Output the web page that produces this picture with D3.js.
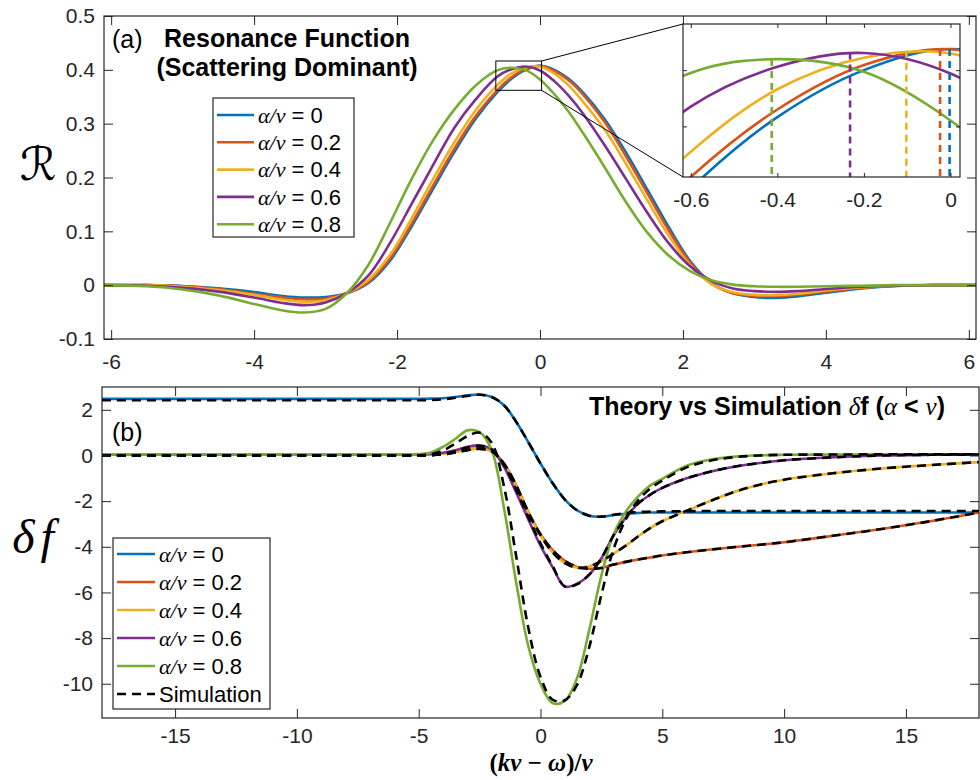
<!DOCTYPE html>
<html lang="en">
<head>
<meta charset="UTF-8">
<title>Resonance function and delta f</title>
<style>
  body { margin: 0; background: #fff; }
  svg { display: block; }
  .tick text { font-family: "Liberation Sans", Arial, sans-serif; font-size: 21px; fill: #262626; }
  .tick line { stroke: #262626; stroke-width: 1; }
  .lbl { font-family: "Liberation Sans", Arial, sans-serif; fill: #000; }
  .math { font-family: "Liberation Serif", "DejaVu Serif", serif; font-style: italic; }
</style>
</head>
<body>
<div id="chart"></div>
<script src="https://cdn.jsdelivr.net/npm/d3@7"></script>
<script>
// ---- panel (a): resonance function R vs (kv - w)/nu ----
var alphaLabels = ["0", "0.2", "0.4", "0.6", "0.8"];
var colors = ["#0072BD", "#D95319", "#EDB120", "#7E2F8E", "#77AC30"];

var topX = [-6.1, -5.5, -5, -4.5, -4, -3.6, -3.3, -3, -2.7, -2.4, -2.1, -1.8, -1.5, -1.2, -0.9, -0.6, -0.4, -0.2,
            0, 0.2, 0.4, 0.6, 0.9, 1.2, 1.5, 1.8, 2.1, 2.4, 2.7, 3, 3.3, 3.6, 4, 4.5, 5, 5.5, 6.1];
var rA0 = [0, 0, -0.0015, -0.006, -0.013, -0.020, -0.023, -0.022, -0.015, 0.004, 0.045, 0.108, 0.178, 0.247, 0.309, 0.358, 0.3833, 0.400,
           0.4075, 0.400, 0.3833, 0.358, 0.309, 0.247, 0.178, 0.108, 0.045, 0.004, -0.015, -0.022, -0.0236, -0.021, -0.014, -0.006, -0.0015, 0, 0];
var rA2 = [0, 0, -0.002, -0.007, -0.016, -0.023, -0.0266, -0.025, -0.0148, 0.006, 0.049, 0.113, 0.184, 0.253, 0.314, 0.362, 0.386, 0.4018,
           0.4074, 0.398, 0.3805, 0.3545, 0.304, 0.240, 0.171, 0.102, 0.042, 0.003, -0.015, -0.020, -0.0204, -0.018, -0.012, -0.005, -0.001, 0, 0];
var rA4 = [0, 0, -0.003, -0.009, -0.018, -0.027, -0.031, -0.028, -0.0145, 0.010, 0.056, 0.123, 0.196, 0.265, 0.325, 0.371, 0.3932, 0.4044,
           0.4059, 0.3935, 0.371, 0.341, 0.290, 0.226, 0.158, 0.092, 0.037, 0.002, -0.013, -0.018, -0.0186, -0.016, -0.010, -0.004, -0.001, 0, 0];
var rA6 = [0, -0.001, -0.005, -0.012, -0.023, -0.033, -0.037, -0.032, -0.0145, 0.018, 0.078, 0.150, 0.222, 0.292, 0.345, 0.387, 0.4012, 0.4061,
           0.3988, 0.379, 0.352, 0.319, 0.261, 0.198, 0.135, 0.078, 0.035, 0.008, -0.006, -0.011, -0.0124, -0.011, -0.007, -0.003, -0.001, 0, 0];
var rA8 = [0, -0.002, -0.008, -0.019, -0.035, -0.047, -0.0508, -0.044, -0.0145, 0.038, 0.115, 0.196, 0.268, 0.326, 0.371, 0.399, 0.4039, 0.3994,
           0.3821, 0.355, 0.322, 0.283, 0.220, 0.155, 0.098, 0.055, 0.026, 0.009, 0.001, -0.002, -0.003, -0.003, -0.002, -0.001, 0, 0, 0];
// peak positions marked in the inset
var peakX = [-0.002, -0.024, -0.102, -0.232, -0.413];
var peakY = [0.4075, 0.4075, 0.4069, 0.4063, 0.4040];

var topXTicks = [-6, -4, -2, 0, 2, 4, 6];
var topYTicks = [-0.1, 0, 0.1, 0.2, 0.3, 0.4, 0.5];
var insetXTicks = [-0.6, -0.4, -0.2, 0];
var insetYTicks = [0.38, 0.40];

// ---- panel (b): delta f, theory vs simulation ----
var botX = [-18, -12, -8, -6, -5, -4.5, -4, -3.5, -3, -2.5, -2, -1.5, -1, -0.5, 0, 0.5, 1, 1.5, 2, 2.5, 3, 3.5, 4, 4.5, 5,
            6, 7, 8, 9, 10, 12, 14, 16, 18];
var dfA0 = [2.48, 2.48, 2.48, 2.48, 2.48, 2.49, 2.51, 2.56, 2.63, 2.67, 2.56, 2.2, 1.48, 0.58, -0.35, -1.22, -1.93, -2.4, -2.64, -2.68, -2.61, -2.55, -2.52, -2.5, -2.5,
            -2.5, -2.5, -2.5, -2.5, -2.5, -2.5, -2.5, -2.5, -2.5];
var dfA2 = [0.05, 0.05, 0.05, 0.05, 0.05, 0.06, 0.09, 0.16, 0.26, 0.31, 0.2, -0.35, -1.3, -2.48, -3.45, -4.15, -4.62, -4.88, -4.96, -4.93, -4.78, -4.66, -4.56, -4.47, -4.38,
            -4.24, -4.12, -4.01, -3.91, -3.8, -3.52, -3.22, -2.88, -2.5];
var dfA4 = [0.05, 0.05, 0.05, 0.05, 0.05, 0.06, 0.09, 0.16, 0.25, 0.3, 0.18, -0.4, -1.35, -2.52, -3.5, -4.25, -4.72, -4.92, -4.86, -4.62, -4.3, -3.95, -3.55, -3.18, -2.88,
            -2.42, -1.98, -1.58, -1.28, -1.06, -0.78, -0.57, -0.42, -0.29];
var dfA6 = [0.05, 0.05, 0.05, 0.05, 0.05, 0.07, 0.12, 0.23, 0.38, 0.44, 0.26, -0.5, -1.62, -2.8, -3.95, -4.9, -5.74, -5.62, -5.22, -4.5, -3.5, -2.72, -2.12, -1.72, -1.42,
            -1.0, -0.7, -0.48, -0.33, -0.21, -0.08, 0.0, 0.03, 0.04];
var dfA8 = [0.05, 0.05, 0.05, 0.05, 0.06, 0.13, 0.38, 0.72, 1.1, 1.02, 0.22, -2.3, -5.55, -8.35, -10.0, -10.85, -10.75, -9.75, -7.65, -5.25, -3.45, -2.47, -1.8, -1.32, -1.02,
            -0.45, -0.18, -0.05, 0.01, 0.03, 0.04, 0.05, 0.05, 0.05];

var simA0 = [2.42, 2.42, 2.42, 2.42, 2.42, 2.43, 2.46, 2.53, 2.61, 2.66, 2.56, 2.2, 1.48, 0.58, -0.35, -1.22, -1.93, -2.4, -2.64, -2.68, -2.6, -2.53, -2.48, -2.46, -2.45,
             -2.44, -2.43, -2.43, -2.43, -2.43, -2.43, -2.43, -2.43, -2.43];
var simA2 = [0, 0, 0, 0, 0, 0.01, 0.05, 0.13, 0.24, 0.3, 0.2, -0.35, -1.3, -2.48, -3.45, -4.15, -4.62, -4.88, -4.96, -4.93, -4.78, -4.66, -4.56, -4.47, -4.38,
             -4.24, -4.12, -4.01, -3.91, -3.8, -3.52, -3.22, -2.88, -2.5];
var simA4 = [0, 0, 0, 0, 0, 0.01, 0.05, 0.13, 0.23, 0.29, 0.18, -0.4, -1.35, -2.52, -3.5, -4.25, -4.72, -4.92, -4.86, -4.62, -4.3, -3.95, -3.55, -3.18, -2.88,
             -2.42, -1.98, -1.58, -1.28, -1.06, -0.78, -0.57, -0.42, -0.29];
var simA6 = [0, 0, 0, 0, 0, 0.02, 0.08, 0.19, 0.35, 0.42, 0.27, -0.4, -1.5, -2.7, -3.85, -4.85, -5.74, -5.64, -5.22, -4.5, -3.5, -2.72, -2.12, -1.72, -1.42,
             -1.0, -0.7, -0.48, -0.33, -0.21, -0.08, 0.0, 0.03, 0.04];
var simA8 = [0, 0, 0, 0, 0.01, 0.06, 0.22, 0.52, 0.85, 1.0, 0.55, -1.35, -4.4, -7.55, -9.7, -10.7, -10.72, -10.05, -8.4, -6.1, -4.1, -2.8, -1.98, -1.45, -1.1,
             -0.52, -0.22, -0.07, 0.0, 0.03, 0.04, 0.05, 0.05, 0.05];

var botXTicks = [-15, -10, -5, 0, 5, 10, 15];
var botYTicks = [-10, -8, -6, -4, -2, 0, 2];

var topSeries = [rA0, rA2, rA4, rA6, rA8];
var botSeries = [dfA0, dfA2, dfA4, dfA6, dfA8];
var simSeries = [simA0, simA2, simA4, simA6, simA8];

var width = 980, height = 780;
var axisColor = "#262626";

var svg = d3.select("#chart").append("svg")
    .attr("width", width)
    .attr("height", height);

// inward ticks on all four sides, like a boxed MATLAB axes
function drawFrame(g, x, y, xTicks, yTicks, tick, labels, pad) {
    var x0 = x.range()[0], x1 = x.range()[1], y0 = y.range()[0], y1 = y.range()[1];
    var fmt = d => String(d);
    g.append("g").attr("transform", `translate(0,${y0})`)
        .call(d3.axisBottom(x).tickValues(xTicks).tickSizeInner(-tick).tickSizeOuter(0).tickPadding(pad)
            .tickFormat(labels.x ? fmt : ""));
    g.append("g").attr("transform", `translate(0,${y1})`)
        .call(d3.axisTop(x).tickValues(xTicks).tickSizeInner(-tick).tickSizeOuter(0).tickFormat(""));
    g.append("g").attr("transform", `translate(${x0},0)`)
        .call(d3.axisLeft(y).tickValues(yTicks).tickSizeInner(-tick).tickSizeOuter(0).tickPadding(9)
            .tickFormat(labels.y ? fmt : ""));
    g.append("g").attr("transform", `translate(${x1},0)`)
        .call(d3.axisRight(y).tickValues(yTicks).tickSizeInner(-tick).tickSizeOuter(0).tickFormat(""));
    g.selectAll(".domain").remove();
    g.append("rect")
        .attr("x", x0).attr("y", y1)
        .attr("width", x1 - x0).attr("height", y0 - y1)
        .attr("fill", "none").attr("stroke", axisColor).attr("stroke-width", 1.2);
}

function addClip(id, x, y) {
    svg.append("clipPath").attr("id", id).append("rect")
        .attr("x", x.range()[0]).attr("y", y.range()[1])
        .attr("width", x.range()[1] - x.range()[0])
        .attr("height", y.range()[0] - y.range()[1]);
}

function legendLabel(text, value) {
    text.append("tspan").attr("class", "math").text("\u03B1/\u03BD");
    text.append("tspan").text(" = " + value);
}

// ================= panel (a) =================
var xA = d3.scaleLinear().domain([-6.1, 6.1]).range([104, 976]);
var yA = d3.scaleLinear().domain([-0.1, 0.5]).range([339, 16]);
addClip("clipA", xA, yA);

var lineA = d3.line()
    .x(d => xA(d[0])).y(d => yA(d[1]))
    .curve(d3.curveCatmullRom.alpha(0.5));

var gA = svg.append("g");
gA.append("g").attr("clip-path", "url(#clipA)")
    .selectAll("path")
    .data(topSeries)
    .enter().append("path")
    .attr("d", d => lineA(d3.zip(topX, d)))
    .attr("fill", "none")
    .attr("stroke", (d, i) => colors[i])
    .attr("stroke-width", 2.6);

drawFrame(gA, xA, yA, topXTicks, topYTicks, 9, { x: true, y: true }, 15);

// zoom rectangle and connectors
var xI = d3.scaleLinear().domain([-0.618, 0.022]).range([683, 960]);
var yI = d3.scaleLinear().domain([0.362, 0.4164]).range([177, 24]);
var zx0 = xA(xI.domain()[0]), zx1 = xA(xI.domain()[1]);
var zy0 = yA(yI.domain()[1]), zy1 = yA(yI.domain()[0]);

gA.append("rect")
    .attr("x", zx0).attr("y", zy0)
    .attr("width", zx1 - zx0).attr("height", zy1 - zy0)
    .attr("fill", "none").attr("stroke", "#000").attr("stroke-width", 1);
gA.append("line")
    .attr("x1", zx1).attr("y1", zy0).attr("x2", xI.range()[0]).attr("y2", yI.range()[1])
    .attr("stroke", "#000").attr("stroke-width", 1);
gA.append("line")
    .attr("x1", zx1).attr("y1", zy1).attr("x2", xI.range()[0]).attr("y2", yI.range()[0])
    .attr("stroke", "#000").attr("stroke-width", 1);

// inset
var gI = svg.append("g");
gI.append("rect")
    .attr("x", 683).attr("y", 24).attr("width", 960 - 683).attr("height", 177 - 24)
    .attr("fill", "#fff");
addClip("clipI", xI, yI);
var lineI = d3.line()
    .x(d => xI(d[0])).y(d => yI(d[1]))
    .curve(d3.curveCatmullRom.alpha(0.5));
var gIc = gI.append("g").attr("clip-path", "url(#clipI)");
gIc.selectAll("path")
    .data(topSeries)
    .enter().append("path")
    .attr("d", d => lineI(d3.zip(topX, d)))
    .attr("fill", "none")
    .attr("stroke", (d, i) => colors[i])
    .attr("stroke-width", 2.6);
gIc.selectAll("line.peak")
    .data(peakX)
    .enter().append("line")
    .attr("class", "peak")
    .attr("x1", d => xI(d)).attr("x2", d => xI(d))
    .attr("y1", (d, i) => yI(peakY[i])).attr("y2", yI.range()[0])
    .attr("stroke", (d, i) => colors[i])
    .attr("stroke-width", 2.6)
    .attr("stroke-dasharray", "7,5");
drawFrame(gI, xI, yI, insetXTicks, insetYTicks, 4, { x: true, y: false }, 15);

// legend (a)
var legA = svg.append("g");
legA.append("rect")
    .attr("x", 213).attr("y", 98).attr("width", 141).attr("height", 139)
    .attr("fill", "#fff").attr("stroke", axisColor).attr("stroke-width", 1.2);
alphaLabels.forEach(function (a, i) {
    var cy = 115 + i * 27.3;
    legA.append("line")
        .attr("x1", 217).attr("x2", 254).attr("y1", cy).attr("y2", cy)
        .attr("stroke", colors[i]).attr("stroke-width", 2.6);
    var t = legA.append("text")
        .attr("class", "lbl")
        .attr("x", 258).attr("y", cy).attr("dy", "0.35em")
        .style("font-size", "22px");
    legendLabel(t, a);
});

// titles and y label (a)
svg.append("text").attr("class", "lbl")
    .attr("x", 112).attr("y", 48)
    .style("font-size", "25px")
    .text("(a)");
svg.append("text").attr("class", "lbl")
    .attr("x", 287).attr("y", 47)
    .attr("text-anchor", "middle")
    .style("font-size", "25px").style("font-weight", "bold")
    .text("Resonance Function");
svg.append("text").attr("class", "lbl")
    .attr("x", 287).attr("y", 76)
    .attr("text-anchor", "middle")
    .style("font-size", "25px").style("font-weight", "bold")
    .text("(Scattering Dominant)");
svg.append("text")
    .attr("x", 38).attr("y", 180)
    .attr("text-anchor", "middle")
    .style("font-family", '"DejaVu Serif", "DejaVu Sans", serif')
    .style("font-size", "46px")
    .text("\u211B");

// ================= panel (b) =================
var xB = d3.scaleLinear().domain([-18, 18]).range([102, 979]);
var yB = d3.scaleLinear().domain([-11.5, 3]).range([718, 387]);
addClip("clipB", xB, yB);

var lineB = d3.line()
    .x(d => xB(d[0])).y(d => yB(d[1]))
    .curve(d3.curveCatmullRom.alpha(0.5));

var gB = svg.append("g");
var gBc = gB.append("g").attr("clip-path", "url(#clipB)");
gBc.selectAll("path.theory")
    .data(botSeries)
    .enter().append("path")
    .attr("class", "theory")
    .attr("d", d => lineB(d3.zip(botX, d)))
    .attr("fill", "none")
    .attr("stroke", (d, i) => colors[i])
    .attr("stroke-width", 2.6);
gBc.selectAll("path.sim")
    .data(simSeries)
    .enter().append("path")
    .attr("class", "sim")
    .attr("d", d => lineB(d3.zip(botX, d)))
    .attr("fill", "none")
    .attr("stroke", "#000")
    .attr("stroke-width", 2.6)
    .attr("stroke-dasharray", "9,6");

drawFrame(gB, xB, yB, botXTicks, botYTicks, 9, { x: true, y: true }, 10);

// legend (b)
var legB = svg.append("g");
legB.append("rect")
    .attr("x", 113).attr("y", 538).attr("width", 157).attr("height", 171)
    .attr("fill", "#fff").attr("stroke", axisColor).attr("stroke-width", 1.2);
alphaLabels.concat(["sim"]).forEach(function (a, i) {
    var cy = 554 + i * 28;
    var sim = a === "sim";
    legB.append("line")
        .attr("x1", 117).attr("x2", 155).attr("y1", cy).attr("y2", cy)
        .attr("stroke", sim ? "#000" : colors[i]).attr("stroke-width", 2.6)
        .attr("stroke-dasharray", sim ? "9,6" : null);
    var t = legB.append("text")
        .attr("class", "lbl")
        .attr("x", 159).attr("y", cy).attr("dy", "0.35em")
        .style("font-size", "22px");
    if (sim) t.text("Simulation");
    else legendLabel(t, a);
});

// titles and labels (b)
svg.append("text").attr("class", "lbl")
    .attr("x", 112).attr("y", 441)
    .style("font-size", "25px")
    .text("(b)");
var tb = svg.append("text").attr("class", "lbl")
    .attr("x", 945).attr("y", 415)
    .attr("text-anchor", "end")
    .style("font-size", "25px").style("font-weight", "bold");
tb.append("tspan").text("Theory vs Simulation ");
tb.append("tspan").attr("class", "math").style("font-weight", "normal").text("\u03B4");
tb.append("tspan").text("f (");
tb.append("tspan").attr("class", "math").style("font-weight", "normal").text("\u03B1");
tb.append("tspan").text(" < ");
tb.append("tspan").attr("class", "math").style("font-weight", "normal").text("\u03BD");
tb.append("tspan").text(")");

var yl = svg.append("text")
    .attr("x", 33).attr("y", 553)
    .attr("text-anchor", "middle")
    .attr("class", "math")
    .style("font-size", "48px");
yl.append("tspan").text("\u03B4");
yl.append("tspan").attr("dx", 6).text("f");

var xl = svg.append("text")
    .attr("x", 541).attr("y", 771)
    .attr("text-anchor", "middle")
    .style("font-family", '"Liberation Serif", "DejaVu Serif", serif')
    .style("font-weight", "bold")
    .style("font-size", "25px");
xl.append("tspan").text("(");
xl.append("tspan").style("font-style", "italic").text("kv");
xl.append("tspan").text(" \u2212 ");
xl.append("tspan").style("font-style", "italic").text("\u03C9");
xl.append("tspan").text(")/");
xl.append("tspan").style("font-style", "italic").text("\u03BD");
</script>
</body>
</html>
